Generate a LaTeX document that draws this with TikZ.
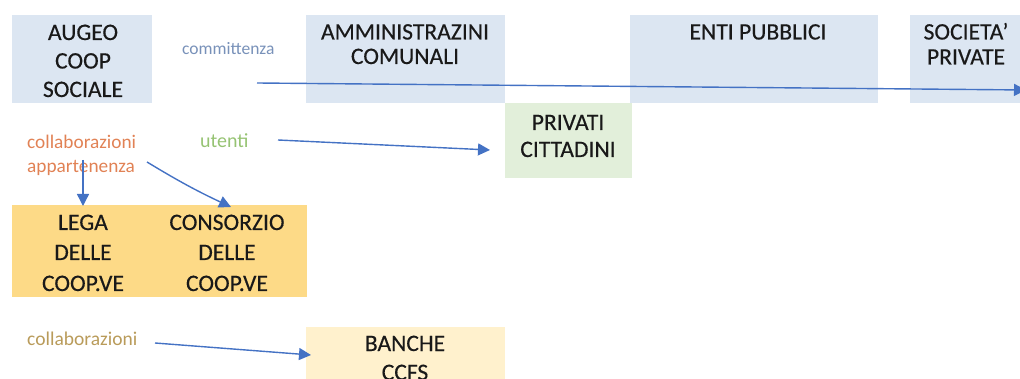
\documentclass[tikz,border=0pt]{standalone}
\usepackage{fontspec}
\setmainfont{Carlito}
\newfontfamily\boxfont{Carlito}[FakeBold=0.35,AutoFakeBold=0.35]
\usetikzlibrary{arrows.meta}
\definecolor{bluebox}{RGB}{220,230,242}
\definecolor{greenbox}{RGB}{226,239,218}
\definecolor{goldbox}{RGB}{253,218,135}
\definecolor{paleboxc}{RGB}{255,241,205}
\definecolor{arrowc}{RGB}{68,114,196}
\definecolor{txt}{RGB}{25,25,25}
\definecolor{lblblue}{RGB}{120,145,185}
\definecolor{lblorange}{RGB}{225,130,85}
\definecolor{lblgreen}{RGB}{150,195,115}
\definecolor{lbltan}{RGB}{185,155,90}
\begin{document}
\begin{tikzpicture}[x=1pt,y=-1pt,
  boxfill/.style={draw=none,inner sep=0pt,anchor=north west},
  bigtext/.style={text=txt,align=center,inner sep=0pt,anchor=base,font=\boxfont\fontsize{23.6}{28}\selectfont\bfseries},
  lbl/.style={inner sep=0pt,anchor=base west},
  conn/.style={draw=arrowc,line width=1.4pt,-{Triangle[length=12pt,width=12pt]}}]
\useasboundingbox (0,0) rectangle (1020,379);
% boxes
\node[boxfill,fill=bluebox,minimum width=140,minimum height=88] (augeo) at (12,15) {};
\node[boxfill,fill=bluebox,minimum width=199,minimum height=88] (ammin) at (306,15) {};
\node[boxfill,fill=bluebox,minimum width=248,minimum height=88] (enti) at (630,15) {};
\node[boxfill,fill=bluebox,minimum width=112,minimum height=88] (soc) at (910,15) {};
\node[boxfill,fill=greenbox,minimum width=127,minimum height=75] (priv) at (505,103) {};
\node[boxfill,fill=goldbox,minimum width=295,minimum height=92] (lega) at (12,205) {};
\node[boxfill,fill=paleboxc,minimum width=199,minimum height=60] (banche) at (306,327) {};
% box texts
\node[bigtext] (taugeo1) at (83,40) {AUGEO};
\node[bigtext] (taugeo2) at (83,68.5) {COOP};
\node[bigtext] (taugeo3) at (83,97) {SOCIALE};
\node[bigtext] (tam1) at (405,39.5) {AMMINISTRAZINI};
\node[bigtext] (tam2) at (405,64) {COMUNALI};
\node[bigtext] (tenti) at (758,39.5) {ENTI PUBBLICI};
\node[bigtext] (tsoc1) at (966,39.5) {SOCIETA’};
\node[bigtext] (tsoc2) at (966,64.5) {PRIVATE};
\node[bigtext] (tpr1) at (568,130) {PRIVATI};
\node[bigtext] (tpr2) at (568,157) {CITTADINI};
\node[bigtext] (tl1) at (83,230) {LEGA};
\node[bigtext] (tl2) at (83,260) {DELLE};
\node[bigtext] (tl3) at (83,291) {COOP.VE};
\node[bigtext] (tc1) at (227,230) {CONSORZIO};
\node[bigtext] (tc2) at (227,260) {DELLE};
\node[bigtext] (tc3) at (227,291) {COOP.VE};
\node[bigtext] (tb1) at (405,351) {BANCHE};
\node[bigtext] (tb2) at (405,380) {CCFS};
% labels
\node[lbl,text=lblblue,font=\fontsize{17.5}{20}\selectfont] (lcomm) at (182,55) {committenza};
\node[lbl,text=lblorange,font=\fontsize{19.3}{24}\selectfont] (lcoll) at (27,149) {collaborazioni};
\node[lbl,text=lblorange,font=\fontsize{19.3}{24}\selectfont] (lapp) at (27,173) {appartenenza};
\node[lbl,text=lblgreen,font=\fontsize{20}{24}\selectfont] (luten) at (200,148) {utenti};
\node[lbl,text=lbltan,font=\fontsize{19.5}{24}\selectfont] (lcoll2) at (27,345) {collaborazioni};
% connector endpoints
\coordinate (c1s) at (257,83);
\coordinate (c1e) at (1026,90);
\coordinate (c2s) at (278,140);
\coordinate (c2e) at (490,150);
\coordinate (c3s) at (83,160);
\coordinate (c3e) at (83,206);
\coordinate (c4s) at (147,162);
\coordinate (c4e) at (231,207);
\coordinate (c5s) at (155,343);
\coordinate (c5e) at (311,355);
\draw[conn] (c1s) -- (c1e);
\draw[conn] (c2s) -- (c2e);
\draw[conn] (c3s) -- (c3e);
\draw[conn] (c4s) to[bend right=3] (c4e);
\draw[conn] (c5s) -- (c5e);
\end{tikzpicture}
\end{document}
